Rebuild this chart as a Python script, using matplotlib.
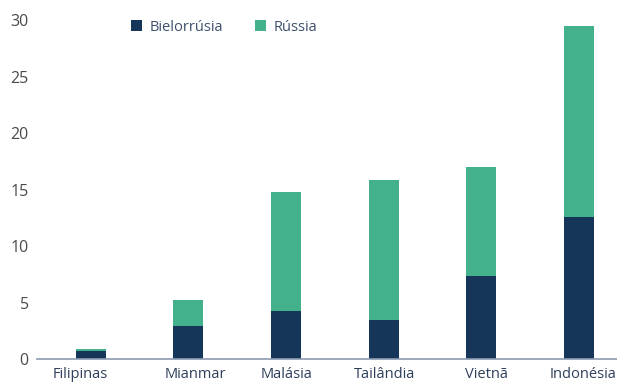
import matplotlib.pyplot as plt
import matplotlib.transforms as mtransforms
import numpy as np

paises = ['Filipinas', 'Mianmar', 'Malásia', 'Tailândia', 'Vietnã', 'Indonésia']
bielorrussia = [0.7, 2.9, 4.25, 3.45, 7.35, 12.55]
russia = [0.2, 2.3, 10.55, 12.4, 9.65, 16.95]

cor_bie = '#163659'
cor_rus = '#43b18b'

plt.rcParams['font.family'] = ['Open Sans', 'DejaVu Sans']

fig = plt.figure(figsize=(6.17, 3.87), dpi=100)
ax = fig.add_axes([0.06, 0.072, 0.94, 0.876])

x = np.arange(len(paises))
ax.bar(x, bielorrussia, width=0.31, color=cor_bie, label='Bielorrúsia')
ax.bar(x, russia, width=0.31, bottom=bielorrussia, color=cor_rus, label='Rússia')

ax.set_xlim(-0.55, 5.39)
ax.set_ylim(0, 30)
ax.set_yticks([0, 5, 10, 15, 20, 25, 30])
ax.set_xticks(x)
ax.set_xticklabels(paises)

for s in ['top', 'right', 'left']:
    ax.spines[s].set_visible(False)
ax.spines['bottom'].set_color('#8c9bb0')
ax.spines['bottom'].set_linewidth(1.2)
ax.tick_params(axis='y', length=0, labelsize=11.5, labelcolor='#4a4a4a', pad=6)
ax.tick_params(axis='x', length=0, labelsize=10.5, labelcolor='#2e3f5c', pad=6)

# deslocamento horizontal dos rótulos (em pixels), como no original
desloc = [-10, 7, 1, 1, 5, 4]
for lab, dx in zip(ax.get_xticklabels(), desloc):
    lab.set_transform(lab.get_transform() + mtransforms.ScaledTranslation(dx / 100, 0, fig.dpi_scale_trans))

leg = ax.legend(loc='upper left', bbox_to_anchor=(0.14, 1.04), ncol=2, frameon=False,
                fontsize=10.5, handlelength=0.75, handleheight=0.75, columnspacing=2.2,
                handletextpad=0.5)
for t in leg.get_texts():
    t.set_color('#3d4f6b')

fig.savefig('out.png', dpi=100)
